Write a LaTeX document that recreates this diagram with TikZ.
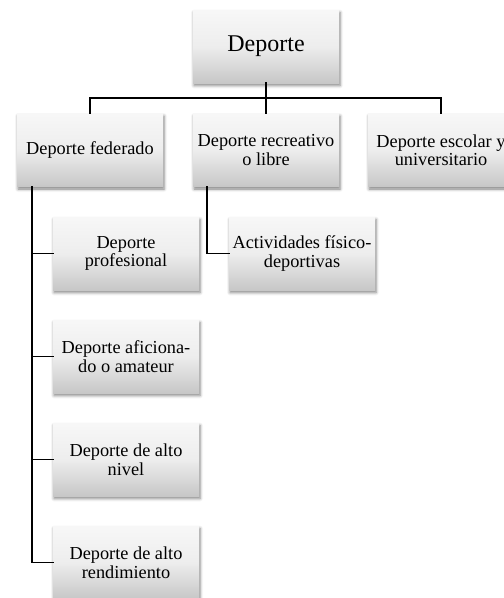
\documentclass[tikz,border=0pt]{standalone}
\usepackage{fontspec}
\setmainfont{Liberation Serif}
\usetikzlibrary{shadows.blur}
\begin{document}
\begin{tikzpicture}[x=1pt,y=1pt,
  box/.style={rectangle, minimum width=146pt, minimum height=73pt, inner sep=2pt,
    align=center, top color=black!3, bottom color=black!22,
    middle color=black!7,
    font=\fontsize{18.3}{18.5}\selectfont,
    blur shadow={shadow xshift=1pt, shadow yshift=-2.5pt, shadow blur radius=3pt, shadow opacity=50}},
  rootbox/.style={box, font=\fontsize{24}{26}\selectfont},
  link/.style={line width=1.7pt, line cap=rect}]
\useasboundingbox (0,0) rectangle (504,-598);
\node[rootbox] (root) at (266,-46.5) {Deporte};
\node[box] (fed) at (90,-150) {Deporte federado};
\node[box] (rec) at (266,-150) {Deporte recreativo\\o libre};
\node[box] (esc) at (441,-150) {Deporte escolar y\\universitario};
\node[box] (c1) at (126,-253.5) {Deporte\\profesional};
\node[box] (c2) at (126,-356.5) {Deporte aficiona-\\do o amateur};
\node[box] (c3) at (126,-459.5) {Deporte de alto\\nivel};
\node[box] (c4) at (126,-562.5) {Deporte de alto\\rendimiento};
\node[box] (act) at (302,-253.5) {Actividades físico-\\deportivas};
\coordinate (bus) at (266,-98);
\coordinate (ft) at ([xshift=15pt]fed.south west);
\coordinate (rt) at ([xshift=14pt]rec.south west);
\draw[link] (root.south) -- (rec.north);
\draw[link] (fed.north) |- (bus) -| (esc.north);
\foreach \c in {c1,c2,c3,c4} \draw[link] (ft) |- (\c.west);
\draw[link] (rt) |- (act.west);
\end{tikzpicture}
\end{document}
